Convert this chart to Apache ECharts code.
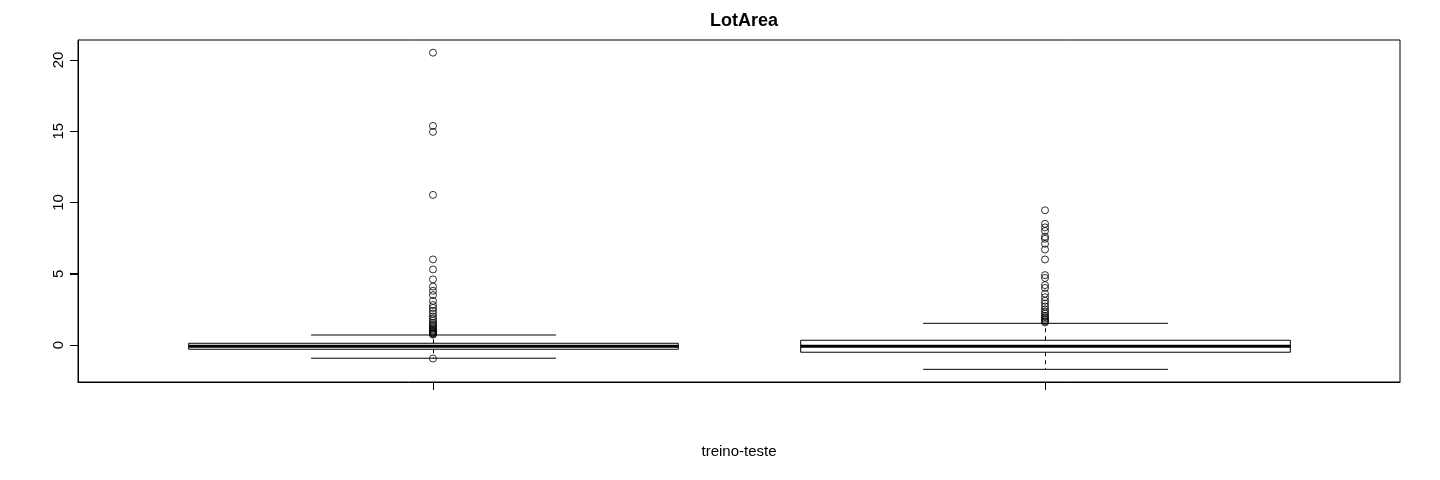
<!DOCTYPE html>
<html>
<head>
<meta charset="utf-8">
<script src="https://cdn.jsdelivr.net/npm/echarts@6/dist/echarts.min.js"></script>
<style>
html,body{margin:0;padding:0;background:#fff;}
#chart{width:1440px;height:480px;}
</style>
</head>
<body>
<div id="chart"></div>
<script>
// Group positions and names
var groupPos = [1, 2];
var groupNames = ['treino', 'teste'];
// Box statistics: [lower whisker, Q1, median, Q3, upper whisker]
var statsTreino = [-0.93, -0.30, -0.09, 0.12, 0.70];
var statsTeste = [-1.71, -0.51, -0.09, 0.33, 1.52];
// Outliers
var outTreino = [20.51, 15.37, 14.95, 10.53, 6.0, 5.3, 4.6, 4.1, 3.8, 3.5, 3.1, 2.8, 2.6, 2.4, 2.2, 2.0, 1.85, 1.7, 1.55, 1.45, 1.35, 1.25, 1.15, 1.07, 1.0, 0.93, 0.87, 0.82, 0.77, 0.73, -0.95];
var outTeste = [9.45, 8.5, 8.25, 8.0, 7.6, 7.45, 7.1, 6.7, 6.0, 4.9, 4.7, 4.2, 4.0, 3.6, 3.35, 3.1, 2.9, 2.7, 2.5, 2.35, 2.2, 2.05, 1.95, 1.85, 1.75, 1.65, 1.58];
// Tick labels
var yTicks = [0, 5, 10, 15, 20];

var allVals = statsTreino.concat(statsTeste, outTreino, outTeste);
var dMin = Math.min.apply(null, allVals), dMax = Math.max.apply(null, allVals);
var ext = (dMax - dMin) * 0.04;
var xExt = (groupPos[groupPos.length-1] - groupPos[0] + 1) * 0.04;
var xMin = groupPos[0] - 0.5 - xExt;
var xMax = groupPos[groupPos.length-1] + 0.5 + xExt;

var boxData = [
  [groupPos[0]].concat(statsTreino),
  [groupPos[1]].concat(statsTeste)
];
var scatterData = [];
outTreino.forEach(function(v){ scatterData.push([groupPos[0], v]); });
outTeste.forEach(function(v){ scatterData.push([groupPos[1], v]); });

var chart = echarts.init(document.getElementById('chart'), null, {renderer: 'canvas'});
var black = '#000';
chart.setOption({
  animation: false,
  backgroundColor: '#fff',
  title: {
    text: 'LotArea', left: 739, top: 7, textAlign: 'center',
    textStyle: {fontFamily: 'Liberation Sans, Arial', fontSize: 18, fontWeight: 'bold', color: black}
  },
  grid: {left: 78, right: 40, top: 40, bottom: 98, show: true, borderColor: black, borderWidth: 1, backgroundColor: 'transparent'},
  xAxis: {
    type: 'value',
    min: xMin,
    max: xMax,
    name: 'treino-teste', nameLocation: 'middle', nameGap: 62,
    nameTextStyle: {fontFamily: 'Liberation Sans, Arial', fontSize: 15, color: black},
    axisLine: {show: true, onZero: false, lineStyle: {color: black, width: 1}},
    axisTick: {show: true, customValues: groupPos, length: 8, lineStyle: {color: black, width: 1}},
    axisLabel: {show: false},
    splitLine: {show: false}
  },
  yAxis: {
    type: 'value',
    min: dMin - ext, max: dMax + ext,
    axisLine: {show: true, onZero: false, lineStyle: {color: black, width: 1}},
    axisTick: {show: true, customValues: yTicks, length: 8, lineStyle: {color: black, width: 1}},
    axisLabel: {show: true, customValues: yTicks, rotate: 90, margin: 12, fontFamily: 'Liberation Sans, Arial', fontSize: 15, color: black},
    splitLine: {show: false}
  },
  series: [
    {
      type: 'custom',
      data: boxData,
      encode: {x: 0, y: [1,2,3,4,5]},
      z: 2,
      renderItem: function(params, api){
        var x = api.value(0);
        var lo = api.coord([x, api.value(1)]);
        var q1 = api.coord([x, api.value(2)]);
        var med = api.coord([x, api.value(3)]);
        var q3 = api.coord([x, api.value(4)]);
        var hi = api.coord([x, api.value(5)]);
        var bw = api.size([0.8, 0])[0];
        var cw = api.size([0.4, 0])[0];
        var cx = Math.round(lo[0]) + 0.5;
        var st = {stroke: black, lineWidth: 1, fill: null};
        var dash = {stroke: black, lineWidth: 1, lineDash: [4, 4]};
        return {
          type: 'group',
          children: [
            {type: 'line', shape: {x1: cx, y1: q3[1], x2: cx, y2: hi[1]}, style: dash},
            {type: 'line', shape: {x1: cx, y1: q1[1], x2: cx, y2: lo[1]}, style: dash},
            {type: 'line', shape: {x1: cx - cw/2, y1: hi[1], x2: cx + cw/2, y2: hi[1]}, style: st},
            {type: 'line', shape: {x1: cx - cw/2, y1: lo[1], x2: cx + cw/2, y2: lo[1]}, style: st},
            {type: 'rect', shape: {x: cx - bw/2, y: q3[1], width: bw, height: q1[1] - q3[1]}, style: {stroke: black, lineWidth: 1, fill: '#fff'}},
            {type: 'line', shape: {x1: cx - bw/2, y1: med[1], x2: cx + bw/2, y2: med[1]}, style: {stroke: black, lineWidth: 3}}
          ]
        };
      }
    },
    {
      type: 'scatter',
      data: scatterData,
      symbol: 'circle',
      symbolSize: 7,
      z: 3,
      itemStyle: {color: 'rgba(0,0,0,0)', borderColor: black, borderWidth: 1}
    }
  ]
});

// Y-axis tick marks positioned through the library's own scale
var tickGraphics = yTicks.map(function(v){
  var p = chart.convertToPixel({gridIndex: 0}, [xMin, v]);
  var y = Math.round(p[1]) + 0.5;
  var x0 = Math.round(p[0]);
  return {type: 'line', z: 100, silent: true, shape: {x1: x0 - 8, y1: y, x2: x0, y2: y}, style: {stroke: black, lineWidth: 1}};
});
chart.setOption({graphic: tickGraphics});
</script>
</body>
</html>
